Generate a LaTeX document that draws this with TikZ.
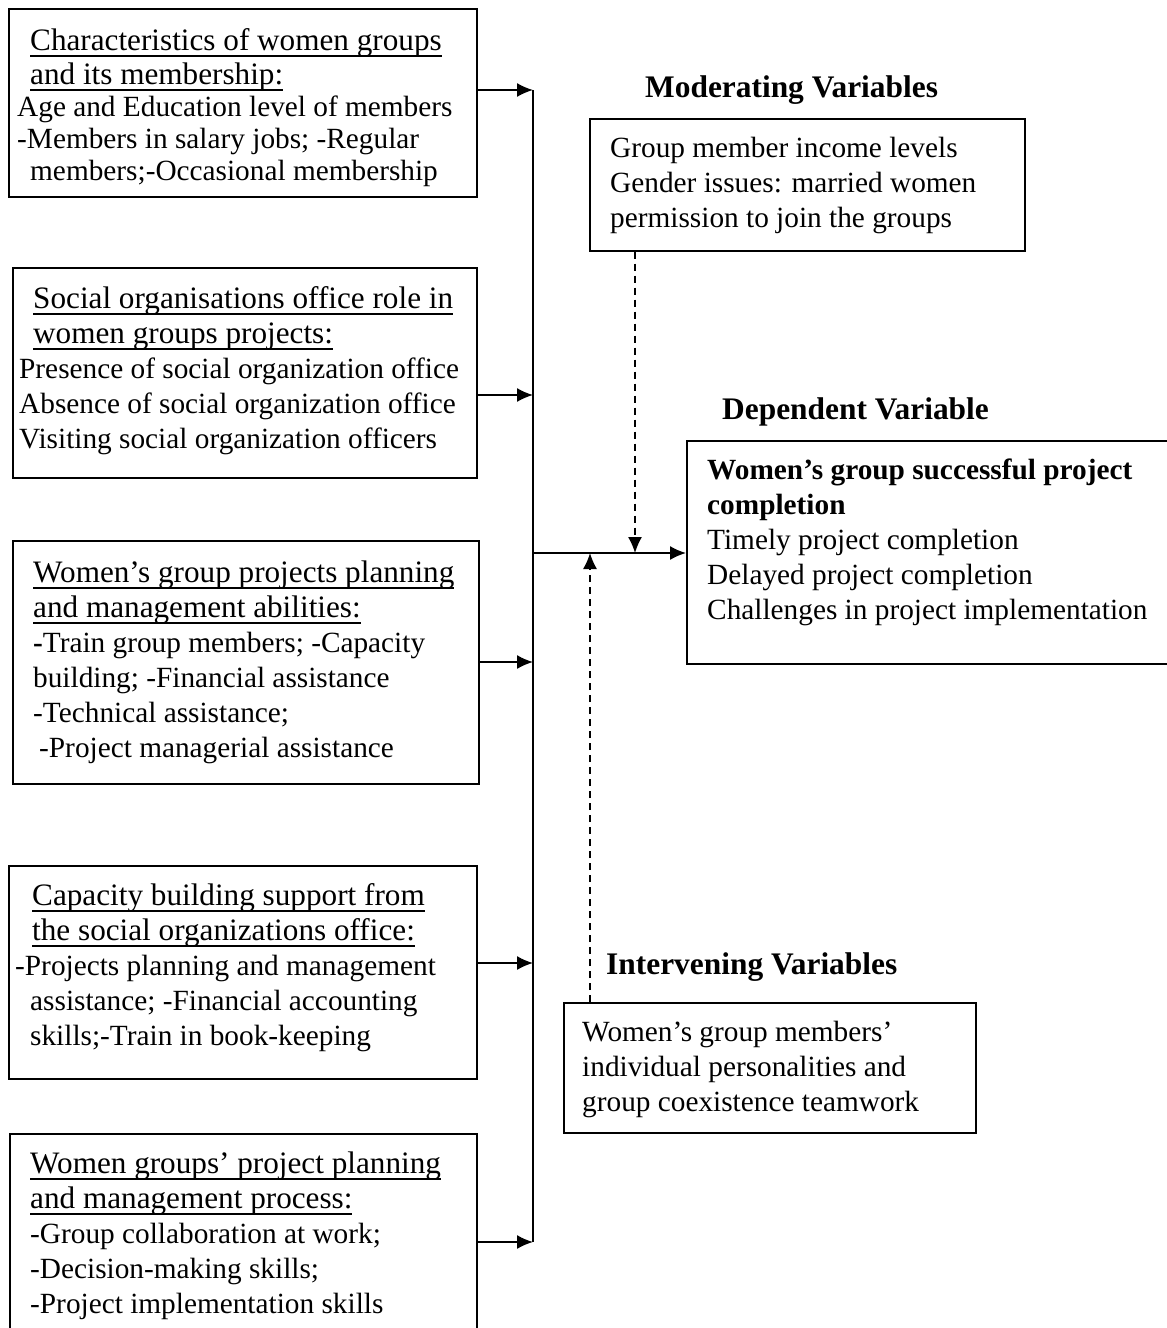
\documentclass[tikz,border=0pt]{standalone}
\usepackage{fontspec}
\setmainfont{Liberation Serif}
\usetikzlibrary{arrows.meta}
\newcommand{\bodyfont}{\fontsize{29.3pt}{35pt}\selectfont}
\newcommand{\tightfont}{\fontsize{29.3pt}{32pt}\selectfont}
\newcommand{\hd}[1]{{\fontsize{31.2pt}{35pt}\selectfont\setbox0\hbox{#1}\rlap{\rule[-6.5pt]{\wd0}{1.8pt}}\box0}}
\tikzset{
  box/.style={draw, line width=1.6pt, rectangle, inner sep=0pt, anchor=north west},
  txt/.style={anchor=north west, inner sep=0pt, align=left, font=\bodyfont},
  ttl/.style={anchor=base west, inner sep=0pt, font=\fontsize{31.4pt}{35pt}\selectfont\bfseries},
  conn/.style={line width=1.6pt},
  arr/.style={line width=1.6pt, -{Latex[length=16pt,width=14pt]}},
  darr/.style={line width=1.4pt, dash pattern=on 7pt off 5pt, -{Latex[length=16pt,width=14pt]}}
}
\begin{document}
\begin{tikzpicture}[x=1pt,y=-1pt]
\useasboundingbox (0,0) rectangle (1167,1328);
\clip (0,0) rectangle (1167,1328);
\fill[white] (0,0) rectangle (1167,1328);

% left boxes
\node[box, minimum width=468pt, minimum height=188pt] (b1) at (8,8) {};
\node[txt, font=\tightfont] (t1) at (17,28.5) {\hspace*{13pt}\hd{Characteristics of women groups}\\[2pt]
\hspace*{13pt}\hd{and its membership:}\\
Age and Education level of members\\
-Members in salary jobs; -Regular\\
\hspace*{13pt}members;-Occasional membership};

\node[box, minimum width=464pt, minimum height=210pt] (b2) at (12,267) {};
\node[txt] (t2) at (19,286.5) {\hspace*{14pt}\hd{Social organisations office role in}\\
\hspace*{14pt}\hd{women groups projects:}\\
Presence of social organization office\\
Absence of social organization office\\
Visiting social organization officers};

\node[box, minimum width=466pt, minimum height=243pt] (b3) at (12,540) {};
\node[txt] (t3) at (33,560.5) {\hd{Women’s group projects planning}\\
\hd{and management abilities:}\\
\textbf{-}Train group members; -Capacity\\
building; -Financial assistance\\
-Technical assistance;\\
\hspace*{6pt}-Project managerial assistance};

\node[box, minimum width=468pt, minimum height=213pt] (b4) at (8,865) {};
\node[txt] (t4) at (15,883.5) {\hspace*{17pt}\hd{Capacity building support from}\\
\hspace*{17pt}\hd{the social organizations office:}\\
-Projects planning and management\\
\hspace*{15pt}assistance; -Financial accounting\\
\hspace*{15pt}skills;-Train in book-keeping};

\node[box, minimum width=467pt, minimum height=215pt] (b5) at (9,1133) {};
\node[txt] (t5) at (30,1151.5) {\hd{Women groups’ project planning}\\
\hd{and management process:}\\
-Group collaboration at work;\\
-Decision-making skills;\\
-Project implementation skills};

% right side
\node[ttl] (tm) at (645,97) {Moderating Variables};
\node[box, minimum width=435pt, minimum height=132pt] (mod) at (589,118) {};
\node[txt] (tmo) at (610,136.7) {Group member income levels\\
Gender issues: married women\\
permission to join the groups};

\node[ttl] (td) at (722,419) {Dependent Variable};
\node[box, minimum width=500pt, minimum height=223pt] (dep) at (686,440) {};
\node[txt] (tde) at (707,458.7) {\textbf{Women’s group successful project}\\
\textbf{completion}\\
Timely project completion\\
Delayed project completion\\
Challenges in project implementation};

\node[ttl] (ti) at (606,974) {Intervening Variables};
\node[box, minimum width=412pt, minimum height=130pt] (int) at (563,1002) {};
\node[txt] (tin) at (582,1020.7) {Women’s group members’\\
individual personalities and\\
group coexistence teamwork};

% connectors
\coordinate (j1) at (533,90);
\coordinate (j2) at (533,395);
\coordinate (j3) at (533,662);
\coordinate (j4) at (533,963);
\coordinate (j5) at (533,1242);
\coordinate (jm) at (533,553);
\coordinate (md) at (635,553);
\coordinate (iu) at (590,553);

\draw[conn] (j1) -- (j5);
\draw[arr] (b1.east |- j1) -- (j1);
\draw[arr] (b2.east |- j2) -- (j2);
\draw[arr] (b3.east |- j3) -- (j3);
\draw[arr] (b4.east |- j4) -- (j4);
\draw[arr] (b5.east |- j5) -- (j5);
\draw[arr] (jm) -- (dep.west |- jm);
\draw[darr] (mod.south -| md) -- (md);
\draw[darr] (int.north -| iu) -- (iu);
\end{tikzpicture}
\end{document}
